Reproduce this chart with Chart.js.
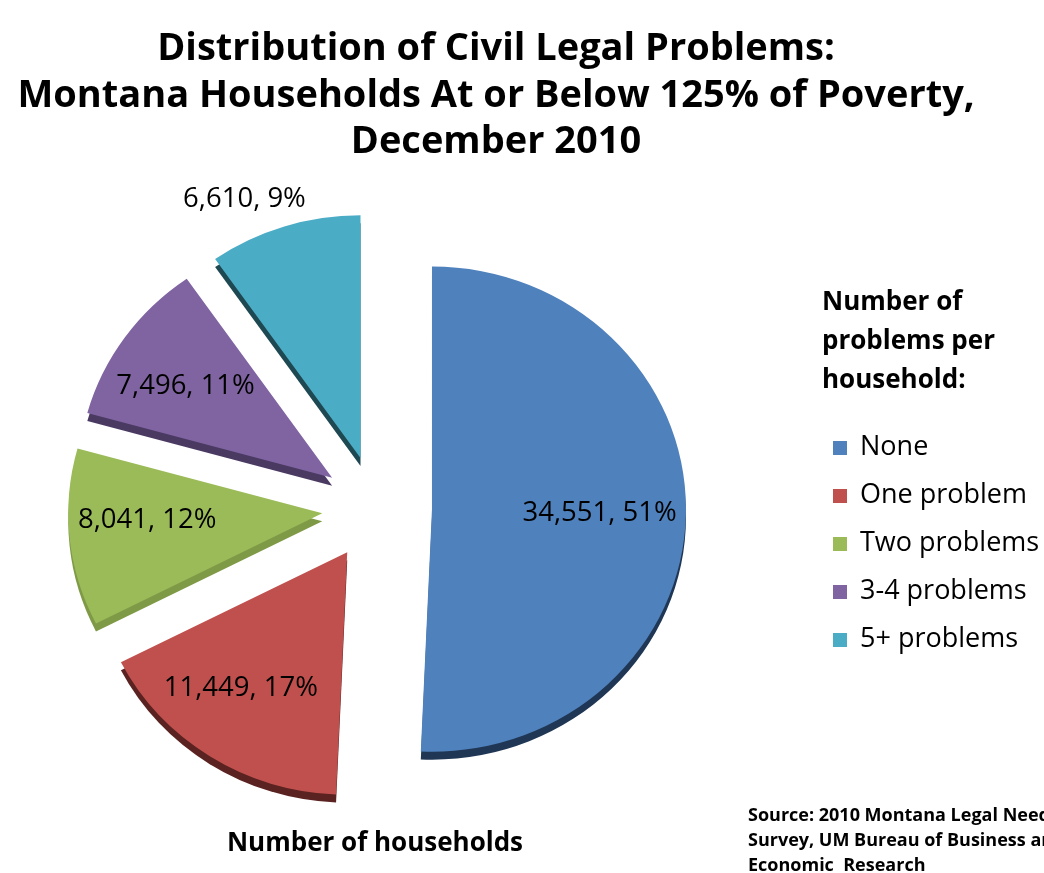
<!DOCTYPE html>
<html>
<head>
<meta charset="utf-8">
<title>Distribution of Civil Legal Problems</title>
<script src="https://cdn.jsdelivr.net/npm/chart.js@4.4.1/dist/chart.umd.min.js"></script>
<style>
  html, body { margin: 0; padding: 0; background: #fff; }
  body {
    position: relative; width: 1044px; height: 873px; overflow: hidden;
    font-family: "Open Sans", Lato, sans-serif; color: #000;
  }
  #pieChart { position: absolute; left: 0; top: 0; }
  .title {
    position: absolute; left: 0; top: 22px; width: 992px;
    text-align: center; font-weight: bold; font-size: 38px; line-height: 46.5px;
  }
  .legend-title {
    position: absolute; left: 822px; top: 281px;
    font-weight: bold; font-size: 26px; line-height: 39px;
  }
  .legend { position: absolute; left: 833px; top: 421px; margin: 0; padding: 0; list-style: none; }
  .legend li { height: 48px; line-height: 48px; font-size: 27px; white-space: nowrap; }
  .legend .swatch {
    display: inline-block; width: 14px; height: 14px; margin-right: 13px; vertical-align: 0;
  }
  .axis-name {
    position: absolute; left: 175px; top: 823px; width: 400px;
    text-align: center; font-weight: bold; font-size: 26px; line-height: 36px;
  }
  .source {
    position: absolute; left: 748px; top: 802px; width: 340px;
    font-weight: bold; font-size: 18px; line-height: 25px; white-space: nowrap;
  }
</style>
</head>
<body>
<canvas id="pieChart" width="1044" height="873"></canvas>

<div class="title">Distribution of Civil Legal Problems:<br>Montana Households At or Below 125% of Poverty,<br>December 2010</div>
<div class="legend-title">Number of<br>problems per<br>household:</div>
<ul class="legend" id="legend"></ul>
<div class="axis-name">Number of households</div>
<div class="source">Source: 2010 Montana Legal Needs<br>Survey, UM Bureau of Business and<br>Economic&nbsp; Research</div>

<script>
/* ============ DATOS ============ */

const categorias = ["None", "One problem", "Two problems", "3-4 problems", "5+ problems"];
const hogares = [34551, 11449, 8041, 7496, 6610];
const porcentajes = [51, 17, 12, 11, 9];

const coloresCara = ["#4F81BD", "#C0504D", "#9BBB59", "#8064A2", "#4BACC6"];
const coloresLado = ["#1F3654", "#5A2220", "#7F9A47", "#4A3A62", "#1E4852"];

/* ============ PIE 3D: geometria ============ */

const PIE_X = 377, PIE_Y = 508;
const RADIO = 254;
const SEPARACION = 55;   // explosion de cada porcion
const INCLINACION = 0.955;
const GROSOR = 8;

// posicion de cada etiqueta: fraccion del radio y giro extra (rad)
const posEtiquetas = [
    { r: 0.66, giro: 0 },
    { r: 0.70, giro: 0.07 },
    { r: 0.69, giro: 0.06 },
    { r: 0.69, giro: -0.035 },
    { r: 1.16, giro: -0.10 }
];

function centroPie(chart) {
    const a = chart.chartArea;
    return { cx: (a.left + a.right) / 2, cy: (a.top + a.bottom) / 2 };
}

const pie3d = {
    id: "pie3d",
    afterDatasetUpdate(chart, args) {
        args.meta.data.forEach(arc => {
            const mid = (arc.startAngle + arc.endAngle) / 2;
            arc.x += Math.cos(mid) * SEPARACION;
            arc.y += Math.sin(mid) * SEPARACION;
        });
    },
    beforeDatasetsDraw(chart) {
        const ctx = chart.ctx;
        const { cx, cy } = centroPie(chart);
        ctx.save();
        ctx.translate(cx, cy);
        ctx.scale(1, INCLINACION);
        ctx.translate(-cx, -cy);

        // lado oscuro debajo de cada porcion
        const dy = GROSOR / INCLINACION;
        chart.getDatasetMeta(0).data.forEach((arc, i) => {
            ctx.beginPath();
            ctx.moveTo(arc.x, arc.y + dy);
            ctx.arc(arc.x, arc.y + dy, arc.outerRadius, arc.startAngle, arc.endAngle);
            ctx.closePath();
            ctx.fillStyle = coloresLado[i];
            ctx.fill();
        });
    },
    afterDatasetsDraw(chart) {
        const ctx = chart.ctx;
        ctx.restore();

        const { cy } = centroPie(chart);
        ctx.save();
        ctx.font = "27.5px 'Open Sans', Lato, sans-serif";
        ctx.fillStyle = "#000";
        ctx.textAlign = "center";
        ctx.textBaseline = "middle";
        chart.getDatasetMeta(0).data.forEach((arc, i) => {
            const p = posEtiquetas[i];
            const ang = (arc.startAngle + arc.endAngle) / 2 + p.giro;
            const x = arc.x + Math.cos(ang) * arc.outerRadius * p.r;
            const y = arc.y + Math.sin(ang) * arc.outerRadius * p.r;
            const texto = `${hogares[i].toLocaleString("en-US")}, ${porcentajes[i]}%`;
            ctx.fillText(texto, x, cy + (y - cy) * INCLINACION);
        });
        ctx.restore();
    }
};

/* ============ GRAFICO ============ */

function initPieChart() {
    const ctx = document.getElementById("pieChart");
    new Chart(ctx, {
        type: "pie",
        data: {
            labels: categorias,
            datasets: [{
                data: hogares,
                backgroundColor: coloresCara,
                borderWidth: 0
            }]
        },
        options: {
            responsive: false,
            animation: false,
            radius: RADIO,
            layout: {
                padding: { left: 0, right: 1044 - 2 * PIE_X, top: 2 * PIE_Y - 873, bottom: 0 }
            },
            plugins: {
                legend: { display: false },
                title: { display: false },
                tooltip: { enabled: false }
            }
        },
        plugins: [pie3d]
    });

    const leyenda = document.getElementById("legend");
    leyenda.innerHTML = categorias.map((c, i) => `
        <li><span class="swatch" style="background:${coloresCara[i]}"></span>${c}</li>
    `).join("");
}

document.addEventListener("DOMContentLoaded", initPieChart);
</script>
</body>
</html>
